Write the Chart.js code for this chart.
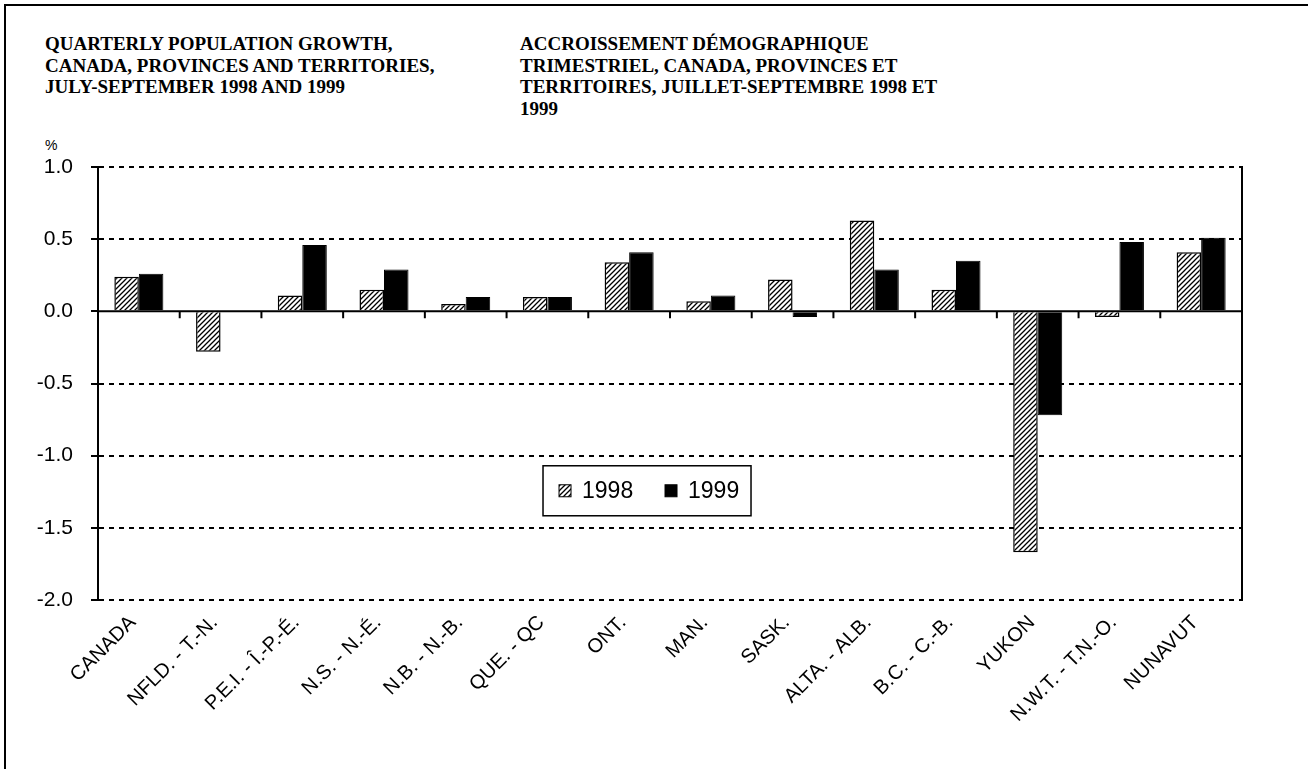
<!DOCTYPE html>
<html>
<head>
<meta charset="utf-8">
<script src="https://cdn.jsdelivr.net/npm/chart.js@4"></script>
<style>
  body { margin: 0; background: #fff; }
  #wrap { position: relative; width: 1308px; height: 769px; overflow: hidden; background: #fff; }
  #frame { position: absolute; left: 4px; top: 4px; width: 1320px; height: 800px; border-top: 2px solid #000; border-left: 2px solid #000; }
  .title { position: absolute; top: 33px; font: bold 19px "Liberation Serif", "Times New Roman", serif; line-height: 21.5px; color: #000; }
  #pct { position: absolute; left: 45px; top: 137px; font: 14px "Liberation Sans", Arial, sans-serif; }
  canvas { position: absolute; left: 0; top: 0; }
</style>
</head>
<body>
<div id="wrap">
  <div id="frame"></div>
  <div class="title" style="left:45px">QUARTERLY POPULATION GROWTH,<br>CANADA, PROVINCES AND TERRITORIES,<br>JULY-SEPTEMBER 1998 AND 1999</div>
  <div class="title" style="left:520px">ACCROISSEMENT DÉMOGRAPHIQUE<br>TRIMESTRIEL, CANADA, PROVINCES ET<br>TERRITOIRES, JUILLET-SEPTEMBRE 1998 ET<br>1999</div>
  <div id="pct">%</div>
  <canvas id="chart" width="1308" height="769"></canvas>
</div>
<script>
const categories = ["CANADA", "NFLD. - T.-N.", "P.E.I. - Î.-P.-É.", "N.S. - N.-É.", "N.B. - N.-B.", "QUE. - QC",
  "ONT.", "MAN.", "SASK.", "ALTA. - ALB.", "B.C. - C.-B.", "YUKON", "N.W.T. - T.N.-O.", "NUNAVUT"];
const seriesNames = ["1998", "1999"];
const values1998 = [0.24, -0.28, 0.11, 0.15, 0.05, 0.10, 0.34, 0.07, 0.22, 0.63, 0.15, -1.67, -0.04, 0.41];
const values1999 = [0.26, 0.00, 0.46, 0.29, 0.10, 0.10, 0.41, 0.11, -0.04, 0.29, 0.35, -0.72, 0.48, 0.51];
const yMin = -2.0, yMax = 1.0, yStep = 0.5;

const FONT = "'Liberation Sans', Arial, sans-serif";

// diagonal hatch used for the 1998 bars
function makeHatch() {
  const c = document.createElement("canvas");
  c.width = 5; c.height = 5;
  const g = c.getContext("2d");
  g.fillStyle = "#fff";
  g.fillRect(0, 0, 5, 5);
  g.strokeStyle = "#000";
  g.lineWidth = 1.3;
  g.beginPath();
  g.moveTo(0, 5); g.lineTo(5, 0);
  g.moveTo(-1, 1); g.lineTo(1, -1);
  g.moveTo(4, 6); g.lineTo(6, 4);
  g.stroke();
  return g.createPattern(c, "repeat");
}
const hatch = makeHatch();

// zero line, category tick marks on it, right border of the plot
const axisExtras = {
  id: "axisExtras",
  afterDatasetsDraw(chart) {
    const { ctx, chartArea: a, scales: { x, y } } = chart;
    const y0 = y.getPixelForValue(0);
    ctx.save();
    ctx.strokeStyle = "#000";
    ctx.lineWidth = 2;
    ctx.beginPath();
    ctx.moveTo(a.left, y0); ctx.lineTo(a.right, y0);
    for (let i = 1; i < categories.length; i++) {
      const bx = (x.getPixelForValue(i - 1) + x.getPixelForValue(i)) / 2;
      ctx.moveTo(bx, y0); ctx.lineTo(bx, y0 + 7);
    }
    ctx.moveTo(a.right, a.top - 1); ctx.lineTo(a.right, a.bottom + 1);
    ctx.stroke();
    ctx.restore();
  }
};

// legend box sitting inside the plot area
const boxLegend = {
  id: "boxLegend",
  afterDraw(chart) {
    const { ctx, chartArea: a } = chart;
    const left = a.left + (a.right - a.left) * 0.389;
    const top = a.top + (a.bottom - a.top) * 0.69;
    const w = 208, h = 50;
    ctx.save();
    ctx.fillStyle = "#fff";
    ctx.fillRect(left, top, w, h);
    ctx.strokeStyle = "#000";
    ctx.lineWidth = 1.5;
    ctx.strokeRect(left, top, w, h);
    ctx.font = "23px " + FONT;
    ctx.textBaseline = "middle";
    const fills = [hatch, "#000"];
    let cx = left + 16;
    chart.data.datasets.forEach((ds, i) => {
      ctx.fillStyle = fills[i];
      ctx.fillRect(cx, top + h / 2 - 6, 12, 12);
      ctx.lineWidth = 1;
      ctx.strokeRect(cx, top + h / 2 - 6, 12, 12);
      ctx.fillStyle = "#000";
      ctx.fillText(ds.label, cx + 23, top + h / 2 + 1);
      cx += 106;
    });
    ctx.restore();
  }
};

new Chart(document.getElementById("chart"), {
  type: "bar",
  data: {
    labels: categories,
    datasets: [
      { label: seriesNames[0], data: values1998, backgroundColor: hatch, borderColor: "#000", borderWidth: 1.5 },
      { label: seriesNames[1], data: values1999, backgroundColor: "#000", borderColor: "#000", borderWidth: 1 }
    ]
  },
  options: {
    responsive: false,
    animation: false,
    events: [],
    layout: { padding: { left: 20, top: 167, right: 66, bottom: 29 } },
    datasets: { bar: { categoryPercentage: 0.6, barPercentage: 1.0 } },
    plugins: { legend: { display: false }, tooltip: { enabled: false } },
    scales: {
      x: {
        grid: { display: false },
        border: { display: false },
        afterFit(s) { s.height = 140; },
        ticks: {
          color: "#000",
          font: { family: FONT, size: 20 },
          minRotation: 45, maxRotation: 45,
          padding: 3,
          labelOffset: -6,
          autoSkip: false
        }
      },
      y: {
        min: yMin, max: yMax,
        afterFit(s) { s.width = 78; },
        ticks: {
          stepSize: yStep,
          color: "#000",
          font: { family: FONT, size: 21 },
          padding: 18,
          callback: v => v.toFixed(1)
        },
        grid: {
          color: ctx => (ctx.tick && ctx.tick.value === 0) ? "rgba(0,0,0,0)" : "#000",
          lineWidth: 2,
          tickColor: "#000",
          tickLength: 7,
          tickWidth: 2
        },
        border: { display: true, color: "#000", width: 2, dash: [5, 5] }
      }
    }
  },
  plugins: [axisExtras, boxLegend]
});
</script>
</body>
</html>
